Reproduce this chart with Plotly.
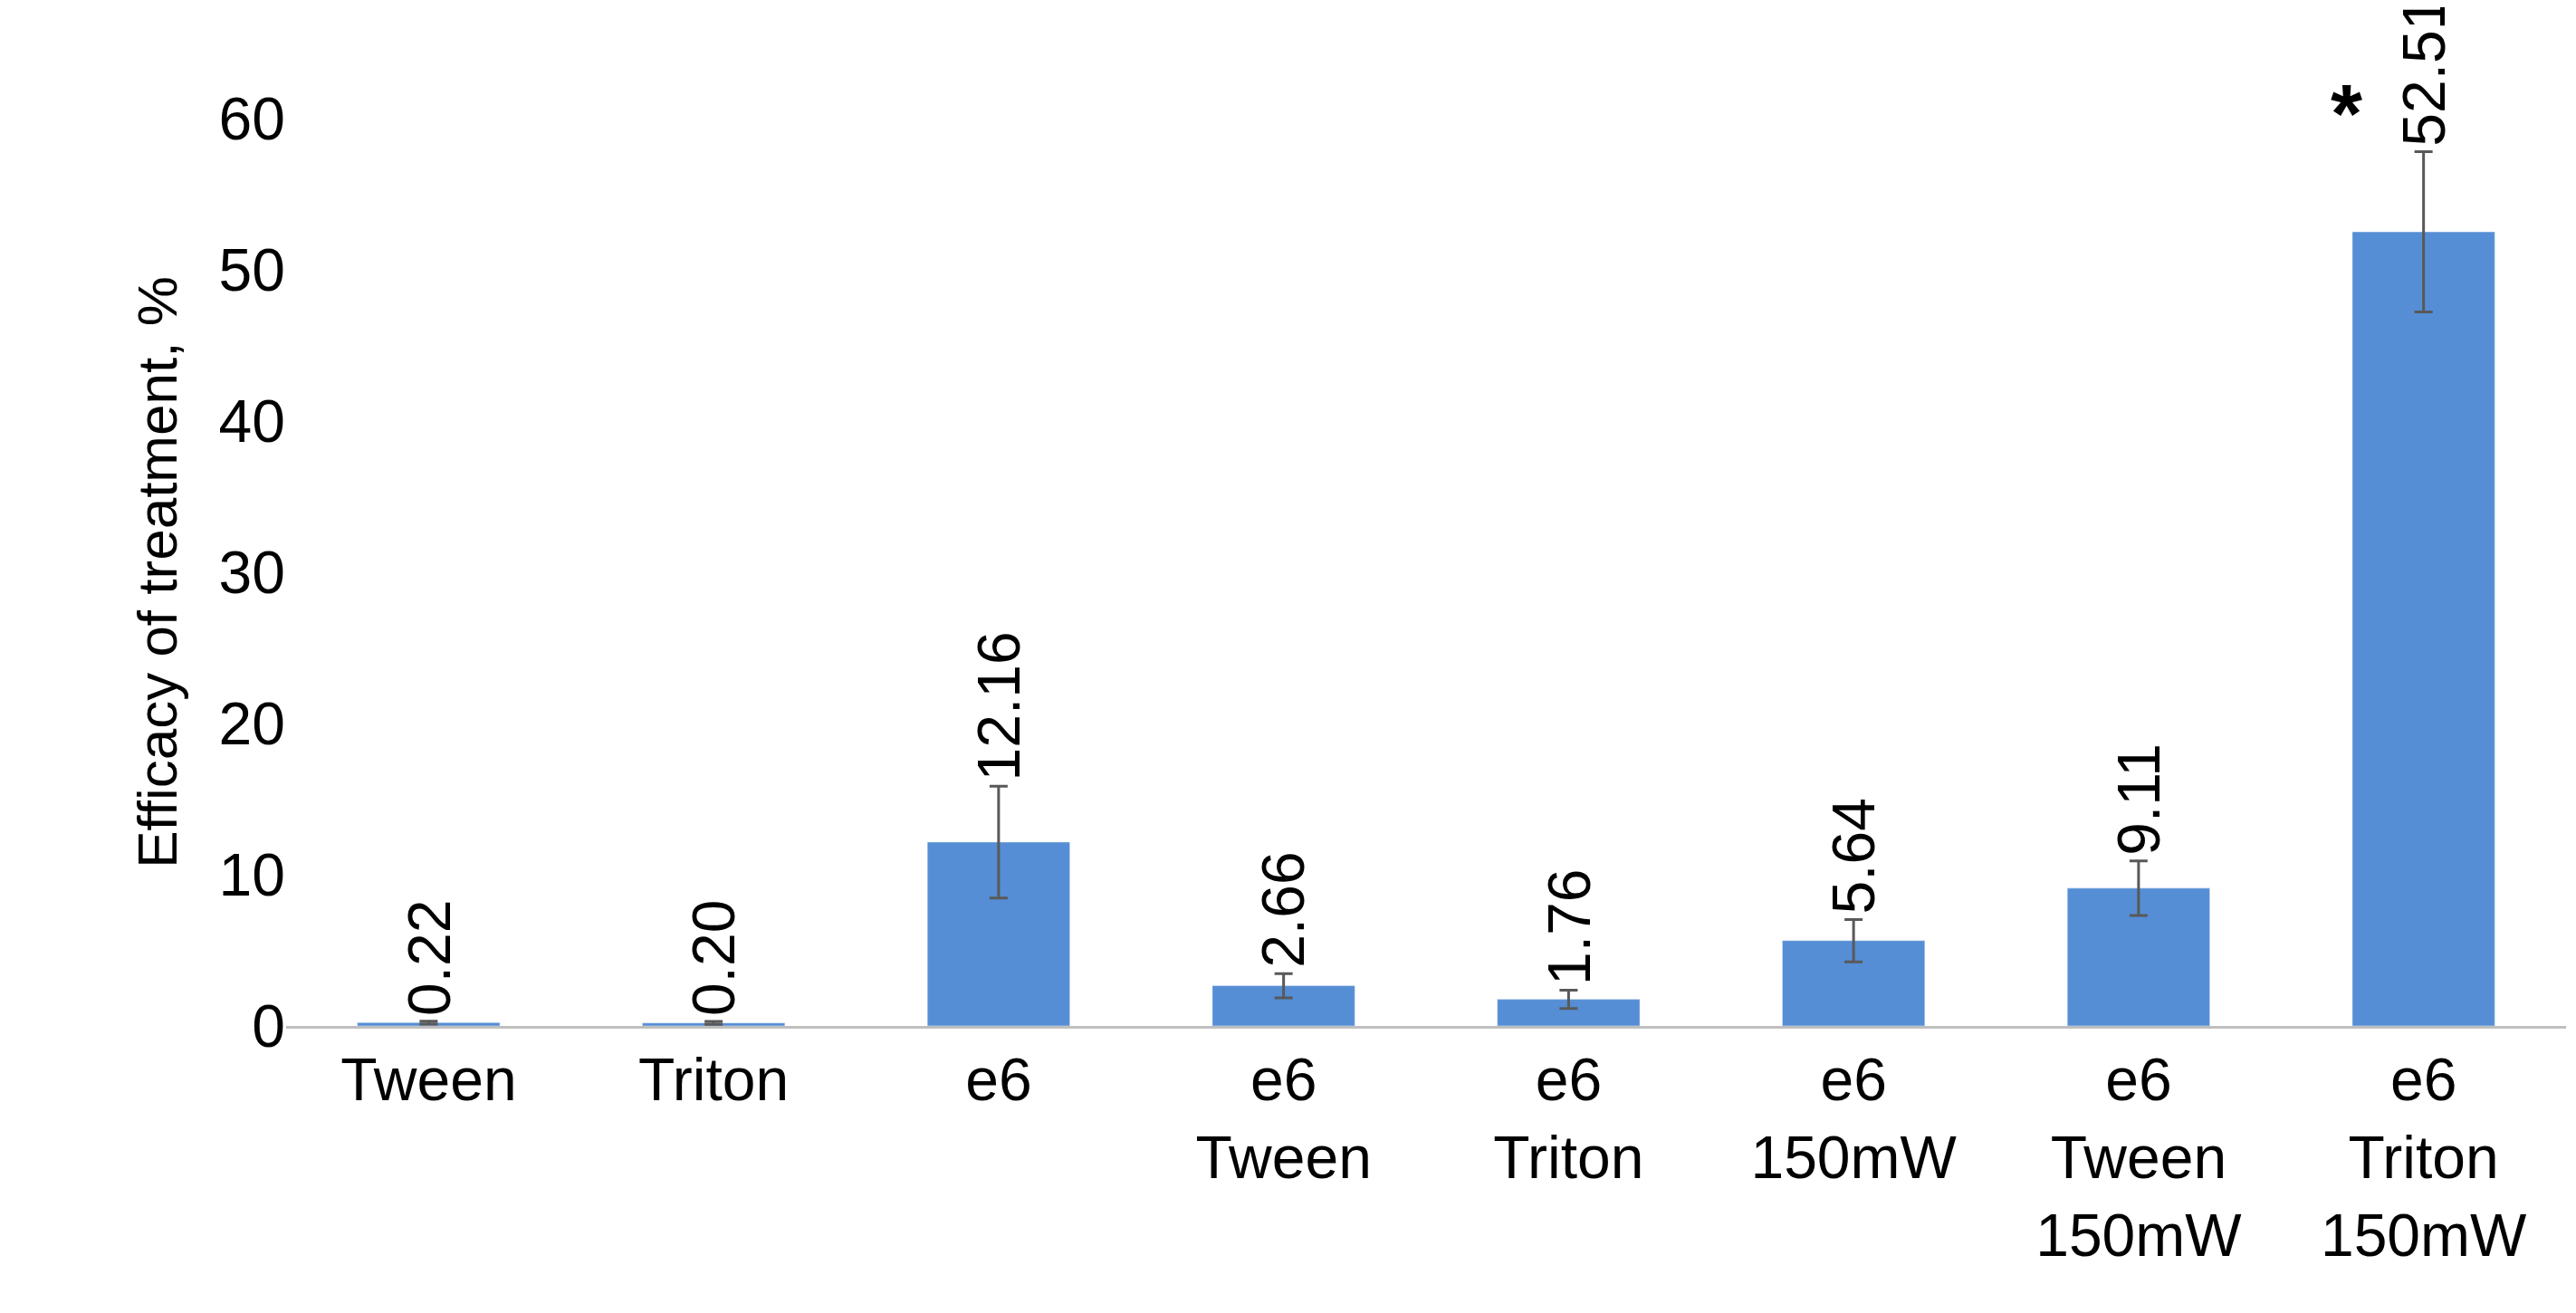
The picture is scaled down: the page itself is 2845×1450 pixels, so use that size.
import plotly.graph_objects as go

categories = ["Tween", "Triton", "e6", "e6<br>Tween", "e6<br>Triton", "e6<br>150mW", "e6<br>Tween<br>150mW", "e6<br>Triton<br>150mW"]
values = [0.22, 0.20, 12.16, 2.66, 1.76, 5.64, 9.11, 52.51]
errors = [0.1, 0.1, 3.7, 0.8, 0.6, 1.4, 1.8, 5.3]
labels = ["0.22", "0.20", "12.16", "2.66", "1.76", "5.64", "9.11", "52.51"]

F = "Liberation Sans, Arial, sans-serif"
fig = go.Figure(go.Bar(
    x=categories, y=values, marker_color="#558ED5", width=0.5,
    error_y=dict(type="data", array=errors, color="#595959", thickness=3, width=10),
))
for c, v, e, t in zip(categories, values, errors, labels):
    fig.add_annotation(x=c, y=v + e, text=t, textangle=-90, showarrow=False,
                       yanchor="bottom", yshift=4, font=dict(family=F, size=66, color="black"))
fig.add_annotation(x=categories[-1], y=values[-1] + errors[-1], text="<b>*</b>", showarrow=False,
                   xshift=-85, yanchor="bottom", yshift=-10, font=dict(family=F, size=90, color="black"))
fig.update_layout(
    width=2845, height=1450, plot_bgcolor="white", paper_bgcolor="white",
    margin=dict(l=308, r=19, t=123, b=325), showlegend=False,
    font=dict(family=F, size=66, color="black"),
    bargap=0.5,
)
fig.update_xaxes(showline=True, linecolor="#BFBFBF", linewidth=3, ticks="", tickfont=dict(size=66))
fig.update_yaxes(range=[0, 60], dtick=10, showgrid=False, zeroline=False, showline=False,
                 tickfont=dict(size=66), ticks="", ticklen=0,
                 title=dict(text="Efficacy of treatment, %", font=dict(size=62), standoff=25))
fig.write_html("out.html")
